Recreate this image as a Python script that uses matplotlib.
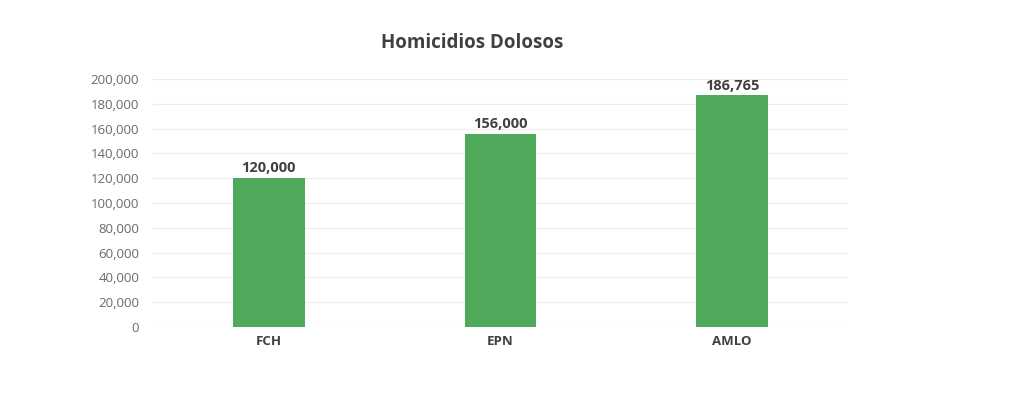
import matplotlib.pyplot as plt
from matplotlib.ticker import FuncFormatter

plt.rcParams['font.family'] = ['Open Sans', 'DejaVu Sans']

# Data
candidates = ['FCH', 'EPN', 'AMLO']
homicides = [120000, 156000, 186765]

fig = plt.figure(figsize=(10.24, 4), dpi=100)
ax = fig.add_axes([0.1494, 0.1825, 0.6787, 0.62])

bars = ax.bar(candidates, homicides, width=0.31, color='#4ea95a', zorder=3)

ax.set_xlim(-0.5, 2.5)
ax.set_ylim(0, 200000)
ax.set_yticks(range(0, 200001, 20000))
ax.yaxis.set_major_formatter(FuncFormatter(lambda v, p: f'{int(v):,}'))
ax.grid(axis='y', color='#ececec', linewidth=0.8, zorder=0)

for s in ax.spines.values():
    s.set_visible(False)
ax.tick_params(axis='both', length=0)
ax.tick_params(axis='y', labelsize=9.5, labelcolor='#6a6a6a', pad=10)
ax.tick_params(axis='x', labelsize=9.5, labelcolor='#404040', pad=6)
for lbl in ax.get_xticklabels():
    lbl.set_fontweight('bold')

for b, v in zip(bars, homicides):
    ax.annotate(f'{v:,}', (b.get_x() + b.get_width() / 2, v),
                xytext=(0, 2), textcoords='offset points',
                ha='center', va='bottom', fontsize=10.5,
                fontweight='bold', color='#404040')

fig.text(0.4615, 0.893, 'Homicidios Dolosos', ha='center', va='center',
         fontsize=13.5, fontweight='bold', color='#404040')

fig.savefig('out.png', dpi=100, facecolor='white')
